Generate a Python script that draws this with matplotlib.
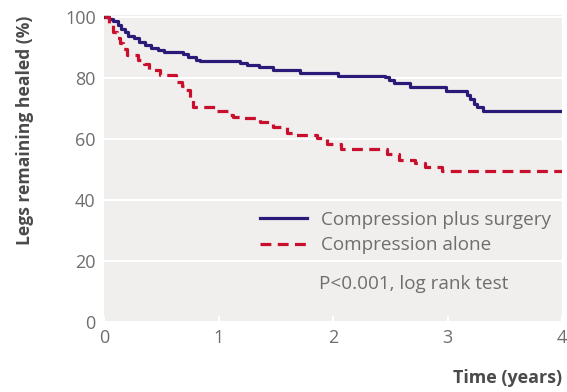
import matplotlib.pyplot as plt
import numpy as np

# Kaplan-Meier style step data
surgery_t = [0, 0.04, 0.08, 0.12, 0.15, 0.18, 0.21, 0.26, 0.31, 0.36, 0.41, 0.47,
             0.52, 0.69, 0.73, 0.80, 0.84, 1.19, 1.25, 1.35, 1.48, 1.71, 2.04,
             2.45, 2.49, 2.53, 2.67, 2.99, 3.17, 3.20, 3.23, 3.26, 3.31, 4.0]
surgery_s = [100, 99.5, 98.7, 97.5, 96.2, 95, 93.8, 93, 92, 91, 90, 89.2,
             88.5, 87.8, 86.8, 86, 85.5, 84.8, 84.3, 83.6, 82.8, 81.6, 80.8,
             80.2, 79.3, 78.5, 77.2, 75.8, 74.5, 73.3, 71.5, 70.6, 69.2, 69.2]

alone_t = [0, 0.04, 0.08, 0.11, 0.14, 0.17, 0.20, 0.30, 0.35, 0.39, 0.49, 0.63,
           0.68, 0.72, 0.75, 0.78, 0.98, 1.08, 1.13, 1.20, 1.36, 1.48, 1.60,
           1.68, 1.86, 1.95, 2.07, 2.47, 2.58, 2.72, 2.80, 2.95, 4.0]
alone_s = [100, 97.5, 95, 93, 91.4, 89.5, 87.5, 85.9, 84.5, 82.6, 81, 78.8,
           77.5, 76, 73.5, 70.6, 69.2, 68, 67.3, 66.8, 65.7, 64, 61.9,
           61.3, 60.2, 58.4, 56.6, 55.1, 53.3, 52, 50.7, 49.4, 49.4]

labels = ["Compression plus surgery", "Compression alone"]
pvalue_text = "P<0.001, log rank test"

plt.rcParams['font.family'] = ['Open Sans', 'DejaVu Sans']

fig = plt.figure(figsize=(5.67, 3.92), dpi=100)
ax = fig.add_axes([104 / 567, 1 - 322 / 392, 458 / 567, 307 / 392])
ax.set_facecolor('#f1efed')

ax.step(surgery_t, surgery_s, where='post', color='#2b1b78', lw=2.3,
        label=labels[0], zorder=3)
ax.step(alone_t, alone_s, where='post', color='#c8102e', lw=2.3,
        dashes=(3.4, 2.0), label=labels[1], zorder=3)

ax.set_xlim(0, 4)
ax.set_ylim(0, 100.7)
ax.set_xticks([0, 1, 2, 3, 4])
ax.set_yticks([0, 20, 40, 60, 80, 100])
ax.grid(axis='y', color='white', lw=1.5)
ax.set_axisbelow(True)
for s in ax.spines.values():
    s.set_visible(False)
ax.tick_params(axis='x', colors='white', direction='in', length=4, width=1.5,
               labelcolor='#6e6e6e', labelsize=13, pad=5)
ax.tick_params(axis='y', length=0, labelcolor='#6e6e6e', labelsize=13, pad=6)

leg = ax.legend(loc='upper left', bbox_to_anchor=(0.34, 0.362), frameon=False,
                fontsize=13.6, handlelength=2.5, handletextpad=0.72,
                labelspacing=0.4, borderpad=0, borderaxespad=0)
for t in leg.get_texts():
    t.set_color('#6e6e6e')
fig.text(319 / 567, 1 - 284 / 392, pvalue_text, fontsize=13.6, color='#6e6e6e',
         va='center', ha='left')

fig.text(25 / 567, 1 - 130 / 392, "Legs remaining healed (%)", rotation=90,
         ha='center', va='center', fontsize=12.6, fontweight='bold', color='#4a4a4a')
fig.text(562 / 567, 1 - 378 / 392, "Time (years)", ha='right', va='center',
         fontsize=12.9, fontweight='bold', color='#4a4a4a')

fig.savefig('out.png', dpi=100)
